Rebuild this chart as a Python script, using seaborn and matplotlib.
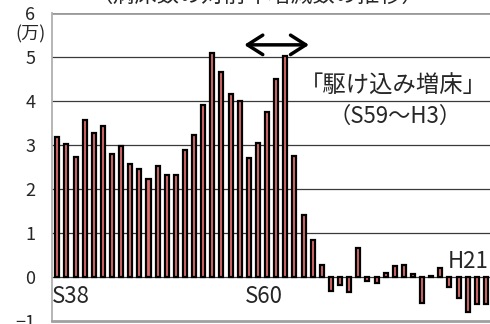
import numpy as np
import pandas as pd
import matplotlib
matplotlib.use("Agg")
import matplotlib.pyplot as plt
import seaborn as sns

sns.set_style("white")
plt.rcParams['font.family'] = ['Noto Sans CJK JP', 'DejaVu Sans']

# 年次 (S38 = 1963 ... H22 = 2010)
years = [str(y) for y in range(1963, 2011)]

# 病床数の対前年増減 (万)
change = [3.18, 3.03, 2.72, 3.56, 3.28, 3.43, 2.80, 2.97, 2.56, 2.45,
          2.22, 2.52, 2.31, 2.33, 2.90, 3.22, 3.92, 5.09, 4.66, 4.16,
          4.01, 2.71, 3.05, 3.75, 4.50, 5.02, 2.76, 1.42, 0.84, 0.27,
          -0.32, -0.19, -0.34, 0.65, -0.09, -0.13, 0.10, 0.25, 0.27, 0.08,
          -0.60, 0.02, 0.20, -0.23, -0.47, -0.79, -0.62, -0.62]

era_labels = ["S38", "S60", "H21"]
era_pos = [(-0.58, -0.44), (20.6, -0.44), (42.8, 0.35)]

df = pd.DataFrame({'year': years, 'change': change})

fig = plt.figure(figsize=(4.9, 3.24), dpi=100)
ax = fig.add_axes([52 / 490, 3 / 324, 0.894, 0.95])

ax.set_axisbelow(True)
for v in range(0, 6):
    ax.axhline(v, color='#3a3a3a', lw=0.9, zorder=0)
ax.axhline(6, color='#9a9a9a', lw=2, zorder=0)

sns.barplot(data=df, x='year', y='change', order=years, color='#E06C6C',
            width=0.44, edgecolor='black', linewidth=1.6, saturation=1,
            ax=ax, zorder=2)

ax.set_xlim(-0.58, 47.45)
ax.set_ylim(-1, 6)
ax.set_yticks(range(-1, 7))
ax.set_xticks([])
ax.set_xlabel('')
ax.set_ylabel('')
ax.tick_params(axis='y', length=0, pad=12, labelsize=13)

for s in ['top', 'right']:
    ax.spines[s].set_visible(False)
ax.spines['left'].set_color('#b0b0b0')
ax.spines['left'].set_linewidth(1.3)
ax.spines['bottom'].set_color('#a0a0a0')
ax.spines['bottom'].set_linewidth(2)

for lab, (px, py) in zip(era_labels, era_pos):
    ax.text(px, py, lab, ha='left', va='center', fontsize=16, zorder=3)

ax.text(36.9, 4.33, '「駆け込み増床」', ha='center', va='center', fontsize=16.8)
ax.text(37.0, 3.65, '（S59～H3）', ha='center', va='center', fontsize=16)

ax.annotate('', xy=(20.5, 5.28), xytext=(27.6, 5.28),
            arrowprops=dict(arrowstyle='<->,head_length=1.1,head_width=0.7',
                            lw=2.5, color='black', shrinkA=0, shrinkB=0))

fig.text(30 / 490, 1 - 34 / 324, '(万)', ha='center', va='center', fontsize=13)
fig.text(257 / 490, 1 - 2 / 324, '（病床数の対前年増減数の推移）',
         ha='center', va='baseline', fontsize=16)

fig.savefig('out.png', dpi=100)
